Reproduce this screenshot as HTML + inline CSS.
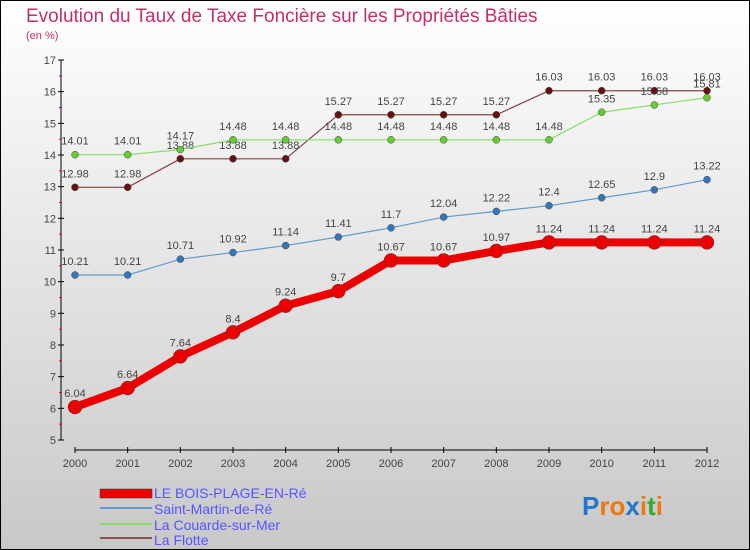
<!DOCTYPE html>
<html><head><meta charset="utf-8"><style>
body{margin:0}
svg{display:block;font-family:"Liberation Sans",sans-serif}
</style></head><body>
<svg id="c" width="750" height="550" xmlns="http://www.w3.org/2000/svg">
<defs><linearGradient id="bg" x1="0" y1="0" x2="0" y2="1"><stop offset="0" stop-color="#ffffff"/><stop offset="1" stop-color="#c8c8c8"/></linearGradient></defs>
<rect x="0.5" y="0.5" width="749" height="549" fill="url(#bg)" stroke="#000"/>
<text x="26" y="22" font-size="19" fill="#c0306a">Evolution du Taux de Taxe Foncière sur les Propriétés Bâties</text>
<text x="26" y="39" font-size="11" fill="#c0306a">(en %)</text>
<g id="axes"></g><g id="series"></g>
<g>
<rect x="100" y="489" width="52" height="9" fill="#ee0000" stroke="#333" stroke-width="0.5"/>
<text x="154" y="498" font-size="14" fill="#5555ff">LE BOIS-PLAGE-EN-Ré</text>
<line x1="100" y1="508" x2="152" y2="508" stroke="#6699cc" stroke-width="2"/>
<text x="154" y="514" font-size="14" fill="#5555ff">Saint-Martin-de-Ré</text>
<line x1="100" y1="524" x2="152" y2="524" stroke="#88dd66" stroke-width="2"/>
<text x="154" y="530" font-size="14" fill="#5555ff">La Couarde-sur-Mer</text>
<line x1="100" y1="538" x2="152" y2="538" stroke="#885555" stroke-width="2"/>
<text x="154" y="545" font-size="14" fill="#5555ff">La Flotte</text>
</g>
<text x="582" y="515" font-size="26" font-weight="bold"><tspan fill="#2277cc">P</tspan><tspan fill="#ee7711">r</tspan><tspan fill="#ee7711">o</tspan><tspan fill="#2277cc">x</tspan><tspan fill="#ee7711">i</tspan><tspan fill="#33aa33">t</tspan><tspan fill="#ee7711">i</tspan></text>
</svg>
<script>
const years=["2000","2001","2002","2003","2004","2005","2006","2007","2008","2009","2010","2011","2012"];
const yTicks=[5,6,7,8,9,10,11,12,13,14,15,16,17];
const boisPlage=[6.04,6.64,7.64,8.4,9.24,9.7,10.67,10.67,10.97,11.24,11.24,11.24,11.24];
const saintMartin=[10.21,10.21,10.71,10.92,11.14,11.41,11.7,12.04,12.22,12.4,12.65,12.9,13.22];
const laCouarde=[14.01,14.01,14.17,14.48,14.48,14.48,14.48,14.48,14.48,14.48,15.35,15.58,15.81];
const laFlotte=[12.98,12.98,13.88,13.88,13.88,15.27,15.27,15.27,15.27,16.03,16.03,16.03,16.03];
const NS="http://www.w3.org/2000/svg";
const X0=75,X1=707,Y0=440,Y1=60,VMIN=5,VMAX=17;
const xs=i=>X0+(X1-X0)*i/(years.length-1);
const ys=v=>Y0-(Y0-Y1)*(v-VMIN)/(VMAX-VMIN);
function mk(tag,attrs,parent){const e=document.createElementNS(NS,tag);for(const k in attrs)e.setAttribute(k,attrs[k]);parent.appendChild(e);return e;}
const ax=document.getElementById('axes');
let l=mk('line',{x1:61,y1:Y1,x2:61,y2:Y0,stroke:'#000'},ax);


l=mk('line',{x1:X0,y1:450,x2:X1,y2:450,stroke:'#000'},ax);


yTicks.forEach((v,i)=>{const y=ys(v);
 mk('line',{x1:58,y1:y,x2:64,y2:y,stroke:'#000'},ax);
 if(i<yTicks.length-1)mk('line',{x1:59,y1:ys(v+0.5),x2:62,y2:ys(v+0.5),stroke:'#f00'},ax);
 const t=mk('text',{x:56,y:y+4,'font-size':11,fill:'#444','text-anchor':'end'},ax);t.textContent=v;
 
 });
years.forEach((yr,i)=>{const x=xs(i);
 mk('line',{x1:x,y1:447,x2:x,y2:453,stroke:'#000'},ax);
 const t=mk('text',{x:x,y:467,'font-size':11,fill:'#444','text-anchor':'middle'},ax);t.textContent=yr;
 
 });
const sg=document.getElementById('series');
function draw(data,name,color,dot,w,r,fs){
 const g=mk('g',{},sg);
 
 
 const p=mk('polyline',{points:data.map((v,i)=>xs(i)+','+ys(v)).join(' '),fill:'none',stroke:color,'stroke-width':w,'stroke-linejoin':'round'},g);
 
 
 data.forEach((v,i)=>{const c=mk('circle',{cx:xs(i),cy:ys(v),r:r,fill:dot,stroke:'#444','stroke-width':0.5},g);
  
  
  const t=mk('text',{x:xs(i),y:ys(v)-10,'font-size':fs,fill:'#444','text-anchor':'middle'},g);t.textContent=v;
  
  });
}
draw(laFlotte,'la-flotte','#884444','#661111',1.2,3.5,11);
draw(laCouarde,'la-couarde','#88dd66','#66cc33',1.2,3.5,11);
draw(saintMartin,'saint-martin','#6699cc','#3377bb',1.2,3.5,11);
draw(boisPlage,'bois-plage','#ee0000','#ee0000',8,7,11);
</script>
</body></html>
